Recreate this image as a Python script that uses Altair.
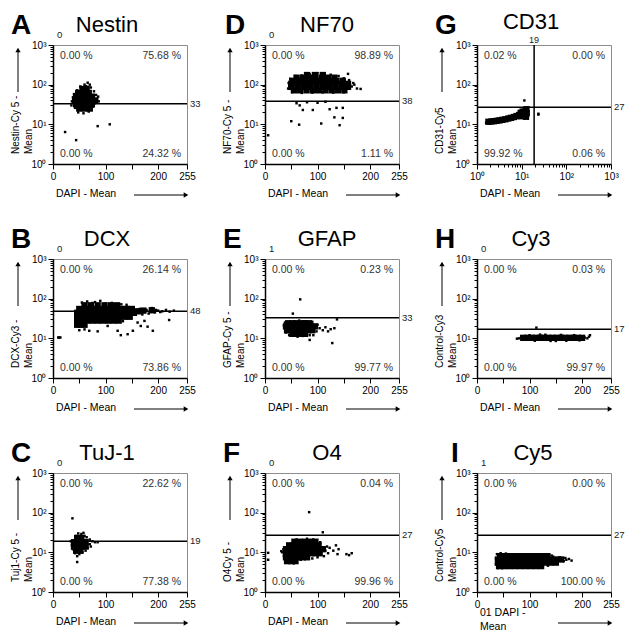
import altair as alt
import pandas as pd

FONT = "Liberation Sans"
W, H = 134, 119

# ---------------- panel texts (row-wise order: A D G / B E H / C F I) ----------
panel_letters = ["A", "D", "G", "B", "E", "H", "C", "F", "I"]
panel_titles = ["Nestin", "NF70", "CD31", "DCX", "GFAP", "Cy3", "TuJ-1", "O4", "Cy5"]
y_titles = ["Nestin-Cy 5 -\nMean", "NF70-Cy 5 -\nMean", "CD31-Cy5\nMean",
            "DCX-Cy3 -\nMean", "GFAP-Cy 5 -\nMean", "Control-Cy3\nMean",
            "Tuj1-Cy 5 -\nMean", "O4Cy 5 -\nMean", "Control-Cy5\nMean"]
x_titles = ["DAPI - Mean"] * 8 + ["01 DAPI -\nMean"]
y_thresholds = [33, 38, 27, 48, 33, 17, 19, 27, 27]
g_x_threshold = 19
gate_labels = ["0", "0", "", "0", "1", "0", "0", "0", "1"]
quadrant_texts = [
    ["0.00 %", "75.68 %", "0.00 %", "24.32 %"],
    ["0.00 %", "98.89 %", "0.00 %", "1.11 %"],
    ["0.02 %", "0.00 %", "99.92 %", "0.06 %"],
    ["0.00 %", "26.14 %", "0.00 %", "73.86 %"],
    ["0.00 %", "0.23 %", "0.00 %", "99.77 %"],
    ["0.00 %", "0.03 %", "0.00 %", "99.97 %"],
    ["0.00 %", "22.62 %", "0.00 %", "77.38 %"],
    ["0.00 %", "0.04 %", "0.00 %", "99.96 %"],
    ["0.00 %", "0.00 %", "0.00 %", "100.00 %"],
]
x_ticks_lin = [0, 50, 100, 150, 200, 255]
log_ticks = [1, 2, 3, 4, 5, 6, 7, 8, 9, 10, 20, 30, 40, 50, 60, 70, 80, 90,
             100, 200, 300, 400, 500, 600, 700, 800, 900, 1000]

# ---------------- point clouds (DAPI mean, marker mean) -------------------------
A_core = [(50, 25), (60, 25), (70, 25), (44, 32), (54, 32), (64, 32), (74, 32),
          (42, 40), (52, 40), (62, 40), (72, 40), (80, 40), (44, 50), (54, 50),
          (64, 50), (74, 50), (48, 62), (58, 62), (68, 62), (56, 78), (64, 78)]
A_dots = [(36, 38), (38, 48), (35, 30), (40, 58), (84, 44), (87, 38), (82, 55),
          (78, 68), (72, 85), (66, 112), (60, 100), (52, 90), (46, 72), (42, 26),
          (48, 20), (58, 19), (68, 21), (76, 28), (80, 34), (86, 50), (63, 92),
          (70, 100), (45, 66), (39, 42), (23, 6.4), (44, 4), (85, 9), (108, 10)]

D_core = [(55, 72), (67, 72), (79, 72), (91, 72), (103, 72), (115, 72), (127, 72), (139, 72), (151, 72),
          (50, 88), (62, 88), (74, 88), (86, 88), (98, 88), (110, 88), (122, 88), (134, 88), (146, 88), (158, 88),
          (50, 105), (62, 105), (74, 105), (86, 105), (98, 105), (110, 105), (122, 105), (134, 105), (146, 105), (158, 105),
          (52, 125), (64, 125), (76, 125), (88, 125), (100, 125), (112, 125), (124, 125), (136, 125), (148, 125),
          (60, 150), (72, 150), (84, 150), (96, 150), (108, 150), (120, 150), (132, 150),
          (80, 175), (95, 175), (110, 175)]
D_dots = [(165, 90), (170, 100), (175, 80), (182, 78), (168, 110), (160, 130), (150, 145),
          (158, 187), (140, 165), (125, 178), (100, 195), (85, 185), (70, 170), (58, 165),
          (48, 140), (45, 110), (44, 80), (52, 65), (70, 62), (90, 63), (110, 64), (130, 63),
          (150, 64), (66, 30), (72, 23), (91, 23), (123, 24), (136, 26), (148, 26), (132, 15),
          (148, 14.5), (142, 9.5), (107, 10.5), (65, 9.8), (50, 12), (6, 5.3), (80, 36),
          (100, 35), (115, 37), (60, 34)]

G_core = [(1.8, 11.6), (2.1, 11.8), (2.4, 12), (2.8, 12.3), (3.2, 12.6), (3.7, 13),
          (4.3, 13.4), (5, 14), (5.8, 14.6), (6.7, 15.3), (7.7, 16.2), (8.8, 17.2),
          (10, 18.5), (11.3, 20), (12.3, 22), (12, 17), (12.5, 15.5), (11.5, 16.5),
          (13, 19), (12.8, 24), (10.5, 21), (9.5, 19.5), (9.5, 16)]
G_dots = [(1.6, 11), (2.0, 11), (4.5, 12.5), (6, 13.5), (7, 14), (8, 15), (9, 21),
          (11, 23.5), (6.5, 17), (5, 15.5), (3.5, 14), (7.5, 18), (13.5, 20),
          (11.5, 40), (23.7, 17.6), (23.7, 18.5)]

B_core = [(46, 22), (52, 22), (60, 22),
          (46, 28), (55, 28), (65, 28), (75, 28), (85, 28), (95, 28), (105, 28), (115, 28), (125, 28),
          (46, 35), (56, 35), (66, 35), (76, 35), (86, 35), (96, 35), (106, 35), (116, 35), (126, 35), (136, 35), (146, 35),
          (46, 44), (56, 44), (66, 44), (76, 44), (86, 44), (96, 44), (106, 44), (116, 44), (126, 44), (136, 44), (146, 44), (154, 44),
          (50, 55), (60, 55), (70, 55), (80, 55), (90, 55), (100, 55), (110, 55), (120, 55), (130, 55), (140, 55), (150, 55),
          (60, 68), (72, 68), (85, 68), (98, 68), (110, 68), (122, 68),
          (162, 48), (172, 50), (188, 51)]
B_dots = [(160, 45), (165, 55), (172, 46), (178, 52), (185, 48), (190, 55), (194, 45),
          (200, 50), (208, 48), (215, 52), (222, 47), (230, 50), (188, 58), (170, 40),
          (182, 42), (160, 52), (176, 49), (196, 52), (204, 46), (65, 85), (80, 82),
          (90, 88), (75, 78), (100, 75), (112, 78), (130, 72), (140, 70), (55, 80),
          (69, 15.5), (85, 15), (104, 20.5), (123, 15.5), (129, 12), (142, 12.7),
          (152, 15.5), (167, 20.5), (180, 19.7), (190, 15.5), (174, 27.5), (161, 25),
          (50, 16), (60, 16.8), (91, 27), (113, 31), (133, 27), (221, 29), (10, 10.5),
          (12, 10.5), (14, 10.5)]

E_core = [(52, 13), (60, 13), (68, 13), (76, 13),
          (42, 16), (50, 16), (58, 16), (66, 16), (74, 16), (82, 16), (90, 16),
          (40, 20), (48, 20), (56, 20), (64, 20), (72, 20), (80, 20), (88, 20), (95, 20),
          (44, 24), (52, 24), (60, 24), (68, 24), (76, 24), (84, 24)]
E_dots = [(100, 22), (104, 18), (110, 16), (115, 19), (120, 15), (125, 17), (132, 18),
          (98, 15), (92, 12), (85, 12), (38, 25), (36, 21), (40, 14), (46, 12), (56, 27),
          (65, 28), (75, 27), (90, 26), (62, 11), (72, 11.5), (67, 96), (53, 42),
          (85, 9.1), (128, 7.6), (137, 30)]

H_core = [(88, 10.3), (96, 10.3), (104, 10.3), (112, 10.3), (120, 10.3), (128, 10.3),
          (136, 10.3), (144, 10.3), (152, 10.3), (160, 10.3), (168, 10.3), (176, 10.3),
          (184, 10.3), (192, 10.3), (200, 10.3)]
H_dots = [(80, 10), (76, 9.8), (84, 11), (205, 10.5), (210, 10), (213, 11), (100, 12),
          (130, 12.3), (160, 12.2), (185, 12), (110, 8.7), (140, 8.6), (170, 8.7),
          (195, 8.9), (120, 12.4), (150, 8.6), (113, 18.6), (215, 12)]

C_core = [(44, 11), (52, 11), (40, 14), (48, 14), (56, 14), (62, 14), (40, 18),
          (48, 18), (56, 18), (62, 18), (46, 23), (54, 23)]
C_dots = [(36, 15), (34, 19), (38, 12), (66, 13), (70, 16), (75, 19), (80, 18), (85, 18),
          (60, 26), (54, 29), (48, 30), (44, 26), (58, 31), (64, 24), (70, 21), (42, 9.5),
          (50, 9), (56, 10), (62, 11), (46, 8), (72, 14), (37, 72), (46, 5.7)]

F_core = [(42, 6), (50, 6), (58, 6),
          (40, 7.5), (48, 7.5), (56, 7.5), (64, 7.5), (72, 7.5), (80, 7.5),
          (40, 9.5), (48, 9.5), (56, 9.5), (64, 9.5), (72, 9.5), (80, 9.5), (88, 9.5), (96, 9.5), (104, 9.5),
          (40, 12), (48, 12), (56, 12), (64, 12), (72, 12), (80, 12), (88, 12), (96, 12), (104, 12), (110, 12),
          (46, 15), (54, 15), (62, 15), (70, 15), (78, 15), (86, 15), (94, 15), (102, 15),
          (56, 18.5), (66, 18.5), (76, 18.5), (86, 18.5), (96, 18.5)]
F_dots = [(35, 12), (33, 10), (36, 8), (115, 11), (118, 14), (112, 8), (120, 9.5),
          (123, 13), (130, 11), (135, 15), (140, 12), (138, 9), (155, 9), (160, 8.5),
          (165, 9.5), (105, 18), (60, 21), (80, 22), (92, 21), (100, 7.5), (90, 7),
          (45, 5.5), (55, 5.3), (68, 6.5), (84, 103), (110, 32), (6, 9.7), (6, 6.5), (31, 10.7)]

I_core = [(42, 4.5), (52, 4.5), (62, 4.5), (72, 4.5), (82, 4.5), (92, 4.5), (102, 4.5), (112, 4.5), (122, 4.5),
          (40, 5.5), (50, 5.5), (60, 5.5), (70, 5.5), (80, 5.5), (90, 5.5), (100, 5.5), (110, 5.5), (120, 5.5), (130, 5.5), (140, 5.5), (150, 5.5),
          (40, 6.6), (50, 6.6), (60, 6.6), (70, 6.6), (80, 6.6), (90, 6.6), (100, 6.6), (110, 6.6), (120, 6.6), (130, 6.6), (140, 6.6), (150, 6.6), (160, 6.6),
          (44, 8), (54, 8), (64, 8), (74, 8), (84, 8), (94, 8), (104, 8), (114, 8), (124, 8), (134, 8)]
I_dots = [(36, 5), (36, 7), (38, 9), (45, 9.5), (55, 9.3), (40, 4.0), (48, 4.0), (165, 6),
          (170, 6.5), (175, 6.8), (180, 6.2), (168, 7.2), (158, 7.5), (145, 7.8), (135, 4.6),
          (142, 8.3)]

cores = [A_core, D_core, G_core, B_core, E_core, H_core, C_core, F_core, I_core]
dots = [A_dots, D_dots, G_dots, B_dots, E_dots, H_dots, C_dots, F_dots, I_dots]

# ---------------- styles ---------------------------------------------------------
title_dx = [54, 62, 54, 54, 62, 54, 54, 62, 56]
title_dy = [-13, -13, -16, -13, -13, -13, -13, -13, -13]
letter_dx = [-42, -40, -42, -42, -42, -42, -42, -42, -26]

DEC_EXPR = ("datum.value == 1 ? '10⁰' : datum.value == 10 ? '10¹' : "
            "datum.value == 100 ? '10²' : datum.value == 1000 ? '10³' : ''")
MAJOR_TEST = "datum.value == 1 || datum.value == 10 || datum.value == 100 || datum.value == 1000"


def log_axis():
    return alt.Axis(values=log_ticks, labelExpr=DEC_EXPR,
                    tickSize={"condition": {"test": MAJOR_TEST, "value": 5}, "value": 3},
                    labelOverlap=False, labelFlush=False, title=None)


def lin_axis():
    return alt.Axis(values=x_ticks_lin,
                    labelExpr="datum.value == 50 || datum.value == 150 ? '' : datum.label",
                    tickSize=5, labelOverlap=False, labelFlush=False, title=None)


def X(field, i):
    if i == 2:
        return alt.X(field, type="quantitative",
                     scale=alt.Scale(type="log", domain=[1, 1000], nice=False), axis=log_axis())
    return alt.X(field, type="quantitative",
                 scale=alt.Scale(domain=[0, 255], nice=False, zero=False), axis=lin_axis())


def Y(field):
    return alt.Y(field, type="quantitative",
                 scale=alt.Scale(type="log", domain=[1, 1000], nice=False), axis=log_axis())


one = pd.DataFrame({"k": [0]})


def txt(s, x, y, **kw):
    return alt.Chart(one).mark_text(font=FONT, **kw).encode(
        x=alt.value(x), y=alt.value(y), text=alt.value(s))


def panel(i):
    layers = []
    core_df = pd.DataFrame(cores[i], columns=["x", "y"])
    dot_df = pd.DataFrame(dots[i], columns=["x", "y"])
    layers.append(alt.Chart(core_df).mark_square(size=40, color="black", opacity=1)
                  .encode(x=X("x", i), y=Y("y")))
    layers.append(alt.Chart(dot_df).mark_square(size=6, color="black", opacity=1)
                  .encode(x=X("x", i), y=Y("y")))
    thr = alt.Chart(pd.DataFrame({"t": [y_thresholds[i]], "lab": [str(y_thresholds[i])]}))
    layers.append(thr.mark_rule(color="black", strokeWidth=1.5).encode(y=Y("t")))
    layers.append(thr.mark_text(align="left", baseline="middle", dx=3, fontSize=9.5,
                                font=FONT, color="#222")
                  .encode(x=alt.value(W), y=Y("t"), text="lab:N"))
    if i == 2:
        vthr = alt.Chart(pd.DataFrame({"v": [g_x_threshold], "lab": [str(g_x_threshold)]}))
        layers.append(vthr.mark_rule(color="black", strokeWidth=1.5).encode(x=X("v", 2)))
        layers.append(vthr.mark_text(align="center", baseline="middle", fontSize=9,
                                     font=FONT, color="#222")
                      .encode(x=X("v", 2), y=alt.value(-5), text="lab:N"))
    else:
        layers.append(txt(gate_labels[i], 4, -10, align="left", baseline="middle",
                          fontSize=9.5, color="#222"))
    # letter and title
    layers.append(txt(panel_letters[i], letter_dx[i], -11, align="left",
                      baseline="alphabetic", fontSize=28, fontWeight="bold", color="black"))
    layers.append(txt(panel_titles[i], title_dx[i], title_dy[i], align="center",
                      baseline="alphabetic", fontSize=22, color="black"))
    # quadrant percentages
    q = quadrant_texts[i]
    qs = dict(fontSize=10.5, color="#333", baseline="middle")
    layers.append(txt(q[0], 7, 11, align="left", **qs))
    layers.append(txt(q[1], W - 6, 11, align="right", **qs))
    layers.append(txt(q[2], 7, H - 10, align="left", **qs))
    layers.append(txt(q[3], W - 6, H - 10, align="right", **qs))
    # axis titles
    layers.append(txt(y_titles[i], -42, H - 10, align="left", baseline="top", angle=270,
                      lineBreak="\n", lineHeight=13, fontSize=10, color="black"))
    if "\n" in x_titles[i]:
        layers.append(txt(x_titles[i], 3, H + 16, align="left", baseline="top",
                          lineBreak="\n", lineHeight=14, fontSize=10.5, color="black"))
    else:
        layers.append(txt(x_titles[i], 3, H + 30, align="left", baseline="middle",
                          fontSize=10.5, color="black"))
    # arrows
    layers.append(alt.Chart(one).mark_rule(color="black", strokeWidth=1)
                  .encode(x=alt.value(-35), y=alt.value(5), y2=alt.value(47)))
    layers.append(alt.Chart(one).mark_point(shape="triangle-up", filled=True, size=28,
                                            color="black", opacity=1)
                  .encode(x=alt.value(-35), y=alt.value(5)))
    layers.append(alt.Chart(one).mark_rule(color="black", strokeWidth=1)
                  .encode(x=alt.value(81), x2=alt.value(132), y=alt.value(H + 31)))
    layers.append(alt.Chart(one).mark_point(shape="triangle-right", filled=True, size=28,
                                            color="black", opacity=1)
                  .encode(x=alt.value(133), y=alt.value(H + 31)))
    return alt.layer(*layers).properties(width=W, height=H)


panels = [panel(i) for i in range(9)]

chart = (
    alt.concat(*panels, columns=3, spacing={"row": 95, "column": 78}, bounds="flush")
    .properties(padding={"left": 2, "top": 2, "right": 0, "bottom": 0}, background="white")
    .configure_view(stroke="#8c8c8c", strokeWidth=1)
    .configure_axis(domainColor="black", domainWidth=1.5, tickColor="black", tickWidth=1,
                    labelFont=FONT, labelFontSize=10, labelColor="black", labelPadding=2,
                    grid=False)
)

chart.save("out.html", embed_options={"renderer": "svg", "actions": False})
